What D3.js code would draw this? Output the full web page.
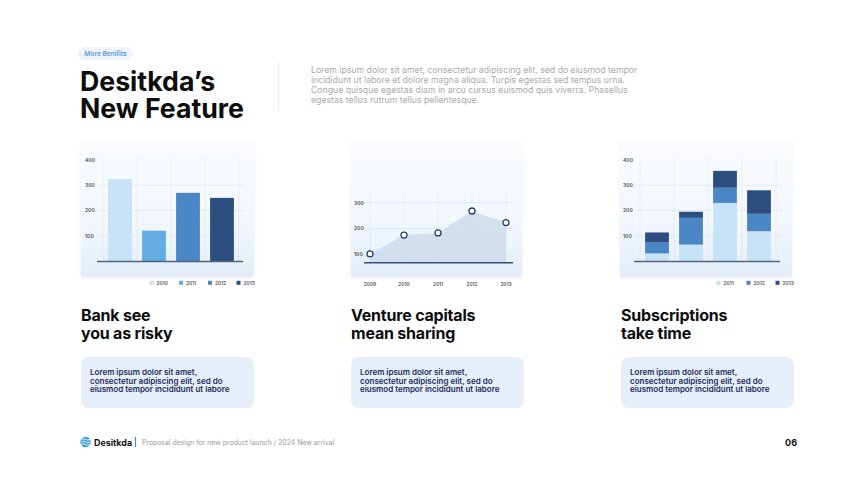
<!DOCTYPE html>
<html><head><meta charset="utf-8">
<script src="https://cdn.jsdelivr.net/npm/d3@7/dist/d3.min.js"></script>
<style>
html,body{margin:0;padding:0;background:#fff;}
svg{display:block;font-family:Inter,"Noto Sans",sans-serif;}
</style></head>
<body>
<svg id="c" width="860" height="484"></svg>
<script>
// ---------- data ----------
const bankYears = ["2010", "2011", "2012", "2013"];
const bankValues = [325, 120, 270, 250];
const ventureYears = ["2009", "2010", "2011", "2012", "2013"];
const ventureValues = [102, 175, 183, 268, 223];
const ventureFloor = 68;
const subsGroups = ["A", "B", "C", "D"];
const subsKeys = ["2011", "2012", "2013"];
const subs2011 = [30, 65, 230, 118];
const subs2012 = [43, 106, 60, 69];
const subs2013 = [40, 24, 67, 93];
const barTicks = [100, 200, 300, 400];
const lineTicks = [100, 200, 300];
const headings = [["Bank see", "you as risky"], ["Venture capitals", "mean sharing"], ["Subscriptions", "take time"]];
const boxLines = ["Lorem ipsum dolor sit amet,", "consectetur adipiscing elit, sed do", "eiusmod tempor incididunt ut labore"];
const introLines = [
  "Lorem ipsum dolor sit amet, consectetur adipiscing elit, sed do eiusmod tempor",
  "incididunt ut labore et dolore magna aliqua. Turpis egestas sed tempus urna.",
  "Congue quisque egestas diam in arcu cursus euismod quis viverra. Phasellus",
  "egestas tellus rutrum tellus pellentesque."
];

const C = {light: "#c8e2f7", sky: "#63ace4", mid: "#4b86c7", dark: "#2c4f80", navy: "#27406b"};
const svg = d3.select("#c");
svg.append("rect").attr("width", 860).attr("height", 484).attr("fill", "#fff");

const defs = svg.append("defs");
const g = defs.append("linearGradient").attr("id", "pg").attr("x1", 0).attr("y1", 0).attr("x2", 0).attr("y2", 1);
g.append("stop").attr("offset", "0%").attr("stop-color", "#fafcfe");
g.append("stop").attr("offset", "60%").attr("stop-color", "#f2f7fc");
g.append("stop").attr("offset", "100%").attr("stop-color", "#e4edf8");
const f = defs.append("filter").attr("id", "sh").attr("x", "-10%").attr("y", "-10%").attr("width", "120%").attr("height", "130%");
f.append("feDropShadow").attr("dx", 0).attr("dy", 1).attr("stdDeviation", 1.5).attr("flood-color", "#9db4d0").attr("flood-opacity", 0.25);

// ---------- header ----------
svg.append("rect").attr("x", 78).attr("y", 47).attr("width", 55).attr("height", 13).attr("rx", 6.5).attr("fill", "#eef3fa");
svg.append("text").attr("x", 105.5).attr("y", 56.3).attr("text-anchor", "middle").attr("font-size", 6.6).attr("font-weight", 600).attr("fill", "#5a9be2").text("More Benifits");
const title = svg.append("text").attr("font-size", 26.7).attr("font-weight", 700).attr("fill", "#0d0d0d");
title.append("tspan").attr("x", 80).attr("y", 90.5).text("Desitkda’s");
title.append("tspan").attr("x", 80).attr("y", 117.5).text("New Feature");
svg.append("line").attr("x1", 278.5).attr("x2", 278.5).attr("y1", 62).attr("y2", 110).attr("stroke", "#ececec").attr("stroke-width", 1);
svg.append("g").selectAll("text").data(introLines).join("text")
  .attr("x", 311).attr("y", (d, i) => 72.5 + i * 10.2)
  .attr("font-size", 8.7).attr("fill", "#aaaaaa").text(d => d);

// ---------- helpers ----------
function panel(x, w) {
  svg.append("rect").attr("x", x).attr("y", 142).attr("width", w).attr("height", 135).attr("rx", 3)
    .attr("fill", "url(#pg)").attr("filter", "url(#sh)");
}
function yLabels(y, ticks, lx) {
  svg.append("g").selectAll("text").data(ticks).join("text")
    .attr("x", lx).attr("y", d => y(d) + 1.8).attr("font-size", 5).attr("font-weight", 600).attr("fill", "#4a4f5a").text(d => d);
}
function legend(items, colors, xs) {
  const lg = svg.append("g");
  items.forEach((d, i) => {
    lg.append("rect").attr("x", xs[i]).attr("y", 280.8).attr("width", 4).attr("height", 4).attr("fill", colors[i]);
    lg.append("text").attr("x", xs[i] + 7).attr("y", 284.6).attr("font-size", 4.8).attr("font-weight", 600).attr("fill", "#4a4f5a").text(d);
  });
}
function barGrid(x, y, ticks) {
  const step = x.step(), half = step * x.paddingInner() / 2;
  const xs = x.domain().map(d => x(d) - half).concat([x(x.domain()[x.domain().length - 1]) + x.bandwidth() + half]);
  const gg = svg.append("g");
  gg.selectAll(".h").data(ticks.slice(0, 3)).join("line")
    .attr("x1", xs[0] - 6).attr("x2", xs[xs.length - 1] + 6).attr("y1", d => y(d)).attr("y2", d => y(d))
    .attr("stroke", "#dde8f3").attr("stroke-width", 0.8);
  gg.selectAll(".v").data(xs).join("line")
    .attr("x1", d => d).attr("x2", d => d).attr("y1", y(400) - 2).attr("y2", y(0))
    .attr("stroke", "#d3e0ee").attr("stroke-width", 0.8).attr("stroke-dasharray", "1.2,1.2");
  return xs;
}

// ---------- chart 1: bars ----------
panel(81, 173);
{
  const x = d3.scaleBand().domain(bankYears).range([103, 239]).paddingInner(0.3).paddingOuter(0.15);
  const y = d3.scaleLinear().domain([0, 400]).range([261, 160]);
  const xs = barGrid(x, y, barTicks);
  const colors = [C.light, C.sky, C.mid, C.dark];
  svg.append("g").selectAll("rect").data(bankValues).join("rect")
    .attr("x", (d, i) => x(bankYears[i])).attr("width", x.bandwidth())
    .attr("y", d => y(d)).attr("height", d => y(0) - y(d)).attr("fill", (d, i) => colors[i]);
  svg.append("line").attr("x1", xs[0] - 6).attr("x2", xs[xs.length - 1] + 4).attr("y1", y(0) + 0.5).attr("y2", y(0) + 0.5)
    .attr("stroke", "#4f6480").attr("stroke-width", 1.5);
  yLabels(y, barTicks, 85);
  legend(bankYears, colors, [149.5, 179, 208, 236.5]);
}

// ---------- chart 2: area / points ----------
panel(351, 171);
{
  const x = d3.scalePoint().domain(ventureYears).range([370, 506]);
  const y = d3.scaleLinear().domain([ventureFloor, 300]).range([262.7, 202.7]);
  const gg = svg.append("g");
  gg.selectAll(".h").data(lineTicks).join("line")
    .attr("x1", 364).attr("x2", 513).attr("y1", d => y(d)).attr("y2", d => y(d))
    .attr("stroke", "#d2e5f7").attr("stroke-width", 0.8);
  gg.selectAll(".v").data(ventureYears).join("line")
    .attr("x1", d => x(d)).attr("x2", d => x(d)).attr("y1", y(300) - 9).attr("y2", y(ventureFloor))
    .attr("stroke", "#d3e0ee").attr("stroke-width", 0.8).attr("stroke-dasharray", "1.2,1.2");
  const pts = ventureYears.map((d, i) => [d, ventureValues[i]]);
  const area = d3.area().x(d => x(d[0])).y0(y(ventureFloor)).y1(d => y(d[1]));
  svg.append("path").datum(pts).attr("d", area).attr("fill", "#c9d8ea").attr("fill-opacity", 0.75);
  svg.append("line").attr("x1", 364).attr("x2", 513).attr("y1", y(ventureFloor)).attr("y2", y(ventureFloor))
    .attr("stroke", "#34507a").attr("stroke-width", 1.6);
  svg.append("g").selectAll("circle").data(pts).join("circle")
    .attr("cx", d => x(d[0])).attr("cy", d => y(d[1])).attr("r", 3)
    .attr("fill", "#fff").attr("stroke", C.navy).attr("stroke-width", 1.3);
  yLabels(y, lineTicks, 354);
  svg.append("g").selectAll("text").data(ventureYears).join("text")
    .attr("x", d => x(d)).attr("y", 285.6).attr("text-anchor", "middle")
    .attr("font-size", 4.8).attr("font-weight", 600).attr("fill", "#4a4f5a").text(d => d);
}

// ---------- chart 3: stacked ----------
panel(620, 172);
{
  const x = d3.scaleBand().domain(subsGroups).range([640, 776]).paddingInner(0.3).paddingOuter(0.15);
  const y = d3.scaleLinear().domain([0, 400]).range([261, 160]);
  const xs = barGrid(x, y, barTicks);
  const rows = subsGroups.map((d, i) => ({g: d, "2011": subs2011[i], "2012": subs2012[i], "2013": subs2013[i]}));
  const series = d3.stack().keys(subsKeys)(rows);
  const colors = [C.light, C.mid, C.dark];
  svg.append("g").selectAll("g").data(series).join("g").attr("fill", (d, i) => colors[i])
    .selectAll("rect").data(d => d).join("rect")
    .attr("x", d => x(d.data.g)).attr("width", x.bandwidth())
    .attr("y", d => y(d[1])).attr("height", d => y(d[0]) - y(d[1]));
  svg.append("line").attr("x1", xs[0] - 6).attr("x2", xs[xs.length - 1] + 4).attr("y1", y(0) + 0.5).attr("y2", y(0) + 0.5)
    .attr("stroke", "#4f6480").attr("stroke-width", 1.5);
  yLabels(y, barTicks, 623);
  legend(subsKeys, colors, [716.5, 746.5, 775.5]);
}

// ---------- captions ----------
[81, 351, 621].forEach((x0, k) => {
  const t = svg.append("text").attr("font-size", 16).attr("font-weight", 700).attr("fill", "#0d0d0d").attr("letter-spacing", -0.2);
  t.append("tspan").attr("x", x0).attr("y", 320.5).text(headings[k][0]);
  t.append("tspan").attr("x", x0).attr("y", 338.5).text(headings[k][1]);
  svg.append("rect").attr("x", x0).attr("y", 357).attr("width", 173).attr("height", 51).attr("rx", 8).attr("fill", "#e5eef9");
  svg.append("g").selectAll("text").data(boxLines).join("text")
    .attr("x", x0 + 9).attr("y", (d, i) => 375 + i * 8.7)
    .attr("font-size", 8).attr("font-weight", 600).attr("fill", "#1f2b5c").text(d => d);
});

// ---------- footer ----------
const logo = svg.append("g").attr("transform", "translate(85.5,442)");
logo.append("circle").attr("r", 5.2).attr("fill", "#3b9bd6");
[-2.6, 0, 2.6].forEach(dy => {
  logo.append("path").attr("d", `M-4.6,${dy} q2.3,-1.6 4.6,0 t4.6,0`).attr("fill", "none").attr("stroke", "#fff").attr("stroke-width", 0.9);
});
svg.append("text").attr("x", 94).attr("y", 445.5).attr("font-size", 8.9).attr("font-weight", 700).attr("fill", "#111").text("Desitkda");
svg.append("line").attr("x1", 135.5).attr("x2", 135.5).attr("y1", 437).attr("y2", 447).attr("stroke", "#3d8fda").attr("stroke-width", 1.2);
svg.append("text").attr("x", 142).attr("y", 444.8).attr("font-size", 6.9).attr("fill", "#9a9a9a").text("Proposal design for new product launch / 2024 New arrival");
svg.append("text").attr("x", 797).attr("y", 445.5).attr("text-anchor", "end").attr("font-size", 9).attr("font-weight", 700).attr("fill", "#111").text("06");
</script>
</body></html>
